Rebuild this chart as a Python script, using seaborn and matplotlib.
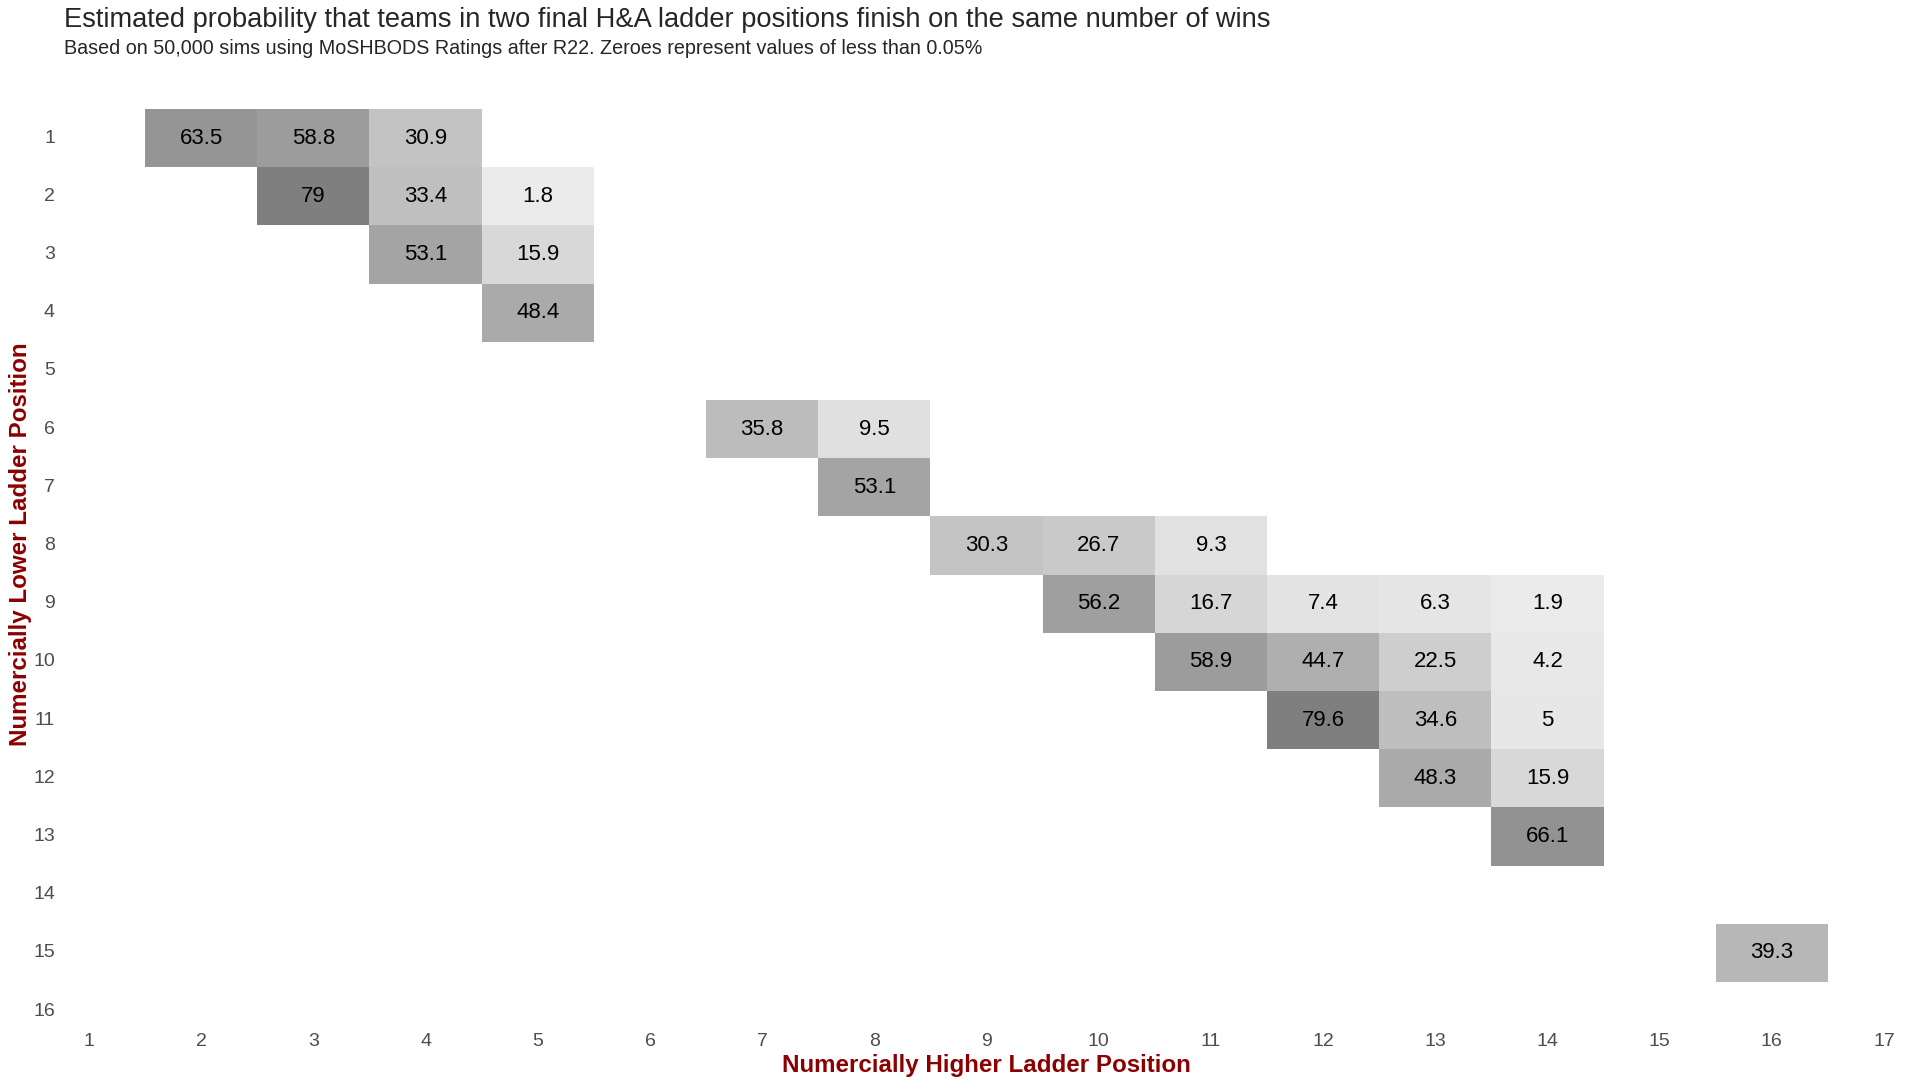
import numpy as np
import pandas as pd
import seaborn as sns
import matplotlib.pyplot as plt
from matplotlib.colors import LinearSegmentedColormap

# ladder pairs: lower position (row), higher position (column), probability %
lower_pos = [1, 1, 1, 2, 2, 2, 3, 3, 4, 6, 6, 7, 8, 8, 8,
             9, 9, 9, 9, 9, 10, 10, 10, 10, 11, 11, 11, 12, 12, 13, 15]
higher_pos = [2, 3, 4, 3, 4, 5, 4, 5, 5, 7, 8, 8, 9, 10, 11,
              10, 11, 12, 13, 14, 11, 12, 13, 14, 12, 13, 14, 13, 14, 14, 16]
prob = [63.5, 58.8, 30.9, 79, 33.4, 1.8, 53.1, 15.9, 48.4, 35.8, 9.5, 53.1, 30.3, 26.7, 9.3,
        56.2, 16.7, 7.4, 6.3, 1.9, 58.9, 44.7, 22.5, 4.2, 79.6, 34.6, 5, 48.3, 15.9, 66.1, 39.3]

row_labels = list(range(1, 17))
col_labels = list(range(1, 18))

title = "Estimated probability that teams in two final H&A ladder positions finish on the same number of wins"
subtitle = "Based on 50,000 sims using MoSHBODS Ratings after R22. Zeroes represent values of less than 0.05%"

df = pd.DataFrame({"lower": lower_pos, "higher": higher_pos, "prob": prob})
grid = df.pivot(index="lower", columns="higher", values="prob").reindex(index=row_labels, columns=col_labels)
labels = grid.map(lambda v: "" if pd.isna(v) else f"{v:g}")

sns.set_style("white")
plt.rcParams["font.family"] = ["Liberation Sans", "DejaVu Sans"]

fig = plt.figure(figsize=(19.2, 10.82), dpi=100)
# axes: left edge at column 1 centre, top edge at top of row 1, bottom at row 16 centre
ax = fig.add_axes([89 / 1920, 1 - 1011 / 1082, 1795 / 1920, 902 / 1082])

cmap = LinearSegmentedColormap.from_list("greys", ["#ebebeb", "#7f7f7f"])
sns.heatmap(grid, ax=ax, cmap=cmap, vmin=1.8, vmax=79.6, cbar=False,
            annot=labels, fmt="", annot_kws={"size": 16, "color": "black"})

ax.set_xlim(0.5, 16.5)
ax.set_ylim(15.5, 0)
ax.set_xticks(np.arange(len(col_labels)) + 0.5, [str(c) for c in col_labels])
ax.set_yticks(np.arange(len(row_labels)) + 0.5, [str(r) for r in row_labels])
ax.tick_params(axis="x", length=0, pad=16, labelsize=14, labelcolor="#4d4d4d", rotation=0)
ax.tick_params(axis="y", length=0, pad=24.5, labelsize=14, labelcolor="#4d4d4d", rotation=0)
for t in ax.get_yticklabels():
    t.set_ha("right")

ax.set_xlabel("Numercially Higher Ladder Position", color="#8b0000", fontsize=17.4, fontweight="bold")
ax.set_ylabel("Numercially Lower Ladder Position", color="#8b0000", fontsize=17.4, fontweight="bold")
ax.xaxis.set_label_coords(0.5, -0.06)
ax.xaxis.label.set_va("center")
ax.yaxis.set_label_coords(-0.038, 0.517)
ax.yaxis.label.set_va("center")
for s in ax.spines.values():
    s.set_visible(False)

fig.text(64 / 1920, 1 - 20 / 1082, title, fontsize=19.6, va="center", ha="left")
fig.text(64 / 1920, 1 - 49 / 1082, subtitle, fontsize=14.2, va="center", ha="left")

fig.savefig("out.png", dpi=100)
